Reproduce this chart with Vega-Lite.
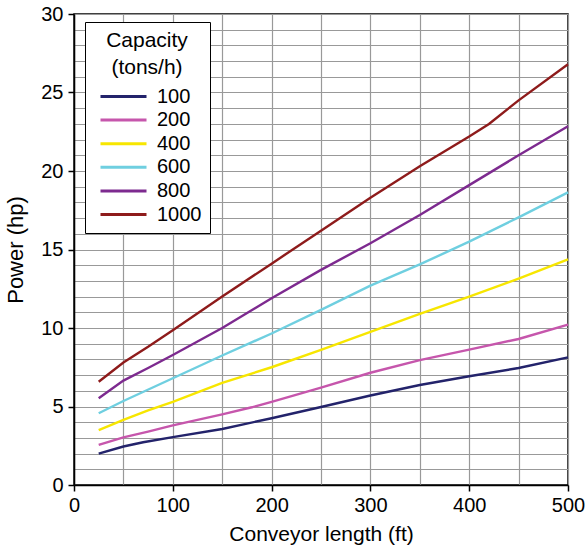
{
  "$schema": "https://vega.github.io/schema/vega-lite/v6.json",
  "width": 494,
  "height": 471,
  "autosize": {"type": "none"},
  "padding": {"left": 74, "top": 14, "right": 18, "bottom": 67},
  "background": "white",
  "config": {
    "font": "Liberation Sans",
    "view": {"stroke": "black", "strokeWidth": 1.5}
  },
  "data": {
    "values": [
      {"c": "100", "x": 25, "y": 2.0}, {"c": "100", "x": 50, "y": 2.45}, {"c": "100", "x": 70, "y": 2.72}, {"c": "100", "x": 100, "y": 3.05}, {"c": "100", "x": 150, "y": 3.57}, {"c": "100", "x": 200, "y": 4.25}, {"c": "100", "x": 250, "y": 4.97}, {"c": "100", "x": 300, "y": 5.7}, {"c": "100", "x": 350, "y": 6.37}, {"c": "100", "x": 400, "y": 6.93}, {"c": "100", "x": 450, "y": 7.45}, {"c": "100", "x": 500, "y": 8.13},
      {"c": "200", "x": 25, "y": 2.55}, {"c": "200", "x": 50, "y": 3.03}, {"c": "200", "x": 75, "y": 3.4}, {"c": "200", "x": 100, "y": 3.8}, {"c": "200", "x": 150, "y": 4.5}, {"c": "200", "x": 180, "y": 4.95}, {"c": "200", "x": 200, "y": 5.3}, {"c": "200", "x": 250, "y": 6.2}, {"c": "200", "x": 300, "y": 7.15}, {"c": "200", "x": 350, "y": 7.95}, {"c": "200", "x": 400, "y": 8.62}, {"c": "200", "x": 450, "y": 9.3}, {"c": "200", "x": 500, "y": 10.22},
      {"c": "400", "x": 25, "y": 3.5}, {"c": "400", "x": 50, "y": 4.15}, {"c": "400", "x": 75, "y": 4.75}, {"c": "400", "x": 100, "y": 5.3}, {"c": "400", "x": 150, "y": 6.5}, {"c": "400", "x": 200, "y": 7.5}, {"c": "400", "x": 250, "y": 8.6}, {"c": "400", "x": 300, "y": 9.75}, {"c": "400", "x": 350, "y": 10.9}, {"c": "400", "x": 400, "y": 12.0}, {"c": "400", "x": 450, "y": 13.15}, {"c": "400", "x": 500, "y": 14.37},
      {"c": "600", "x": 25, "y": 4.57}, {"c": "600", "x": 50, "y": 5.35}, {"c": "600", "x": 100, "y": 6.8}, {"c": "600", "x": 150, "y": 8.25}, {"c": "600", "x": 200, "y": 9.65}, {"c": "600", "x": 250, "y": 11.15}, {"c": "600", "x": 300, "y": 12.7}, {"c": "600", "x": 350, "y": 14.05}, {"c": "600", "x": 400, "y": 15.5}, {"c": "600", "x": 450, "y": 17.05}, {"c": "600", "x": 500, "y": 18.64},
      {"c": "800", "x": 25, "y": 5.52}, {"c": "800", "x": 50, "y": 6.65}, {"c": "800", "x": 75, "y": 7.45}, {"c": "800", "x": 100, "y": 8.28}, {"c": "800", "x": 150, "y": 10.0}, {"c": "800", "x": 200, "y": 11.9}, {"c": "800", "x": 250, "y": 13.7}, {"c": "800", "x": 300, "y": 15.4}, {"c": "800", "x": 350, "y": 17.2}, {"c": "800", "x": 400, "y": 19.1}, {"c": "800", "x": 450, "y": 21.0}, {"c": "800", "x": 500, "y": 22.85},
      {"c": "1000", "x": 25, "y": 6.58}, {"c": "1000", "x": 50, "y": 7.8}, {"c": "1000", "x": 75, "y": 8.8}, {"c": "1000", "x": 100, "y": 9.85}, {"c": "1000", "x": 150, "y": 12.0}, {"c": "1000", "x": 200, "y": 14.1}, {"c": "1000", "x": 250, "y": 16.2}, {"c": "1000", "x": 300, "y": 18.3}, {"c": "1000", "x": 350, "y": 20.3}, {"c": "1000", "x": 400, "y": 22.2}, {"c": "1000", "x": 420, "y": 23.0}, {"c": "1000", "x": 450, "y": 24.5}, {"c": "1000", "x": 500, "y": 26.8}
    ]
  },
  "mark": {"type": "line", "strokeWidth": 2.4},
  "encoding": {
    "x": {
      "field": "x", "type": "quantitative",
      "scale": {"domain": [0, 500], "nice": false, "zero": false},
      "axis": {
        "title": "Conveyor length (ft)",
        "values": [0, 50, 100, 150, 200, 250, 300, 350, 400, 450, 500],
        "labelExpr": "datum.value % 100 === 0 ? datum.label : ''",
        "tickOpacity": {"condition": {"test": "datum.value % 100 !== 0", "value": 0}, "value": 1},
        "tickColor": "black", "tickSize": 6, "tickWidth": 1.5,
        "domainColor": "black", "domainWidth": 1.5,
        "gridColor": "#999999", "gridWidth": 1.2,
        "labelFontSize": 20, "labelColor": "black", "labelPadding": 4,
        "labelFlush": false,
        "titleFontSize": 21, "titleFontWeight": "normal", "titleColor": "black", "titlePadding": 8
      }
    },
    "y": {
      "field": "y", "type": "quantitative",
      "scale": {"domain": [0, 30], "nice": false, "zero": false},
      "axis": {
        "title": "Power (hp)",
        "values": [0,1,2,3,4,5,6,7,8,9,10,11,12,13,14,15,16,17,18,19,20,21,22,23,24,25,26,27,28,29,30],
        "labelExpr": "datum.value % 5 === 0 ? datum.label : ''",
        "tickOpacity": {"condition": {"test": "datum.value % 5 !== 0", "value": 0}, "value": 1},
        "tickColor": "black", "tickSize": 6, "tickWidth": 1.5,
        "domainColor": "black", "domainWidth": 1.5,
        "gridColor": "#999999", "gridWidth": 1.2,
        "labelFontSize": 20, "labelColor": "black", "labelPadding": 5,
        "labelFlush": false,
        "titleFontSize": 22, "titleFontWeight": "normal", "titleColor": "black", "titlePadding": 13
      }
    },
    "color": {
      "field": "c", "type": "nominal",
      "scale": {
        "domain": ["100", "200", "400", "600", "800", "1000"],
        "range": ["#23236b", "#c656ac", "#f7e600", "#6fcfe0", "#7d2a8f", "#8e1b1b"]
      },
      "legend": {
        "title": ["Capacity", "(tons/h)"],
        "orient": "none",
        "legendX": 11,
        "legendY": 8,
        "fillColor": "white",
        "strokeColor": "black",
        "padding": 8,
        "titleFontSize": 21, "titleFontWeight": "normal", "titleColor": "black",
        "titleAnchor": "middle", "titleAlign": "center", "titleLineHeight": 27,
        "titlePadding": 9,
        "labelFontSize": 20, "labelColor": "black", "labelOffset": 9,
        "symbolType": "stroke", "symbolSize": 2116, "symbolStrokeWidth": 3,
        "symbolOffset": 6,
        "clipHeight": 19,
        "rowPadding": 2.6
      }
    }
  }
}
